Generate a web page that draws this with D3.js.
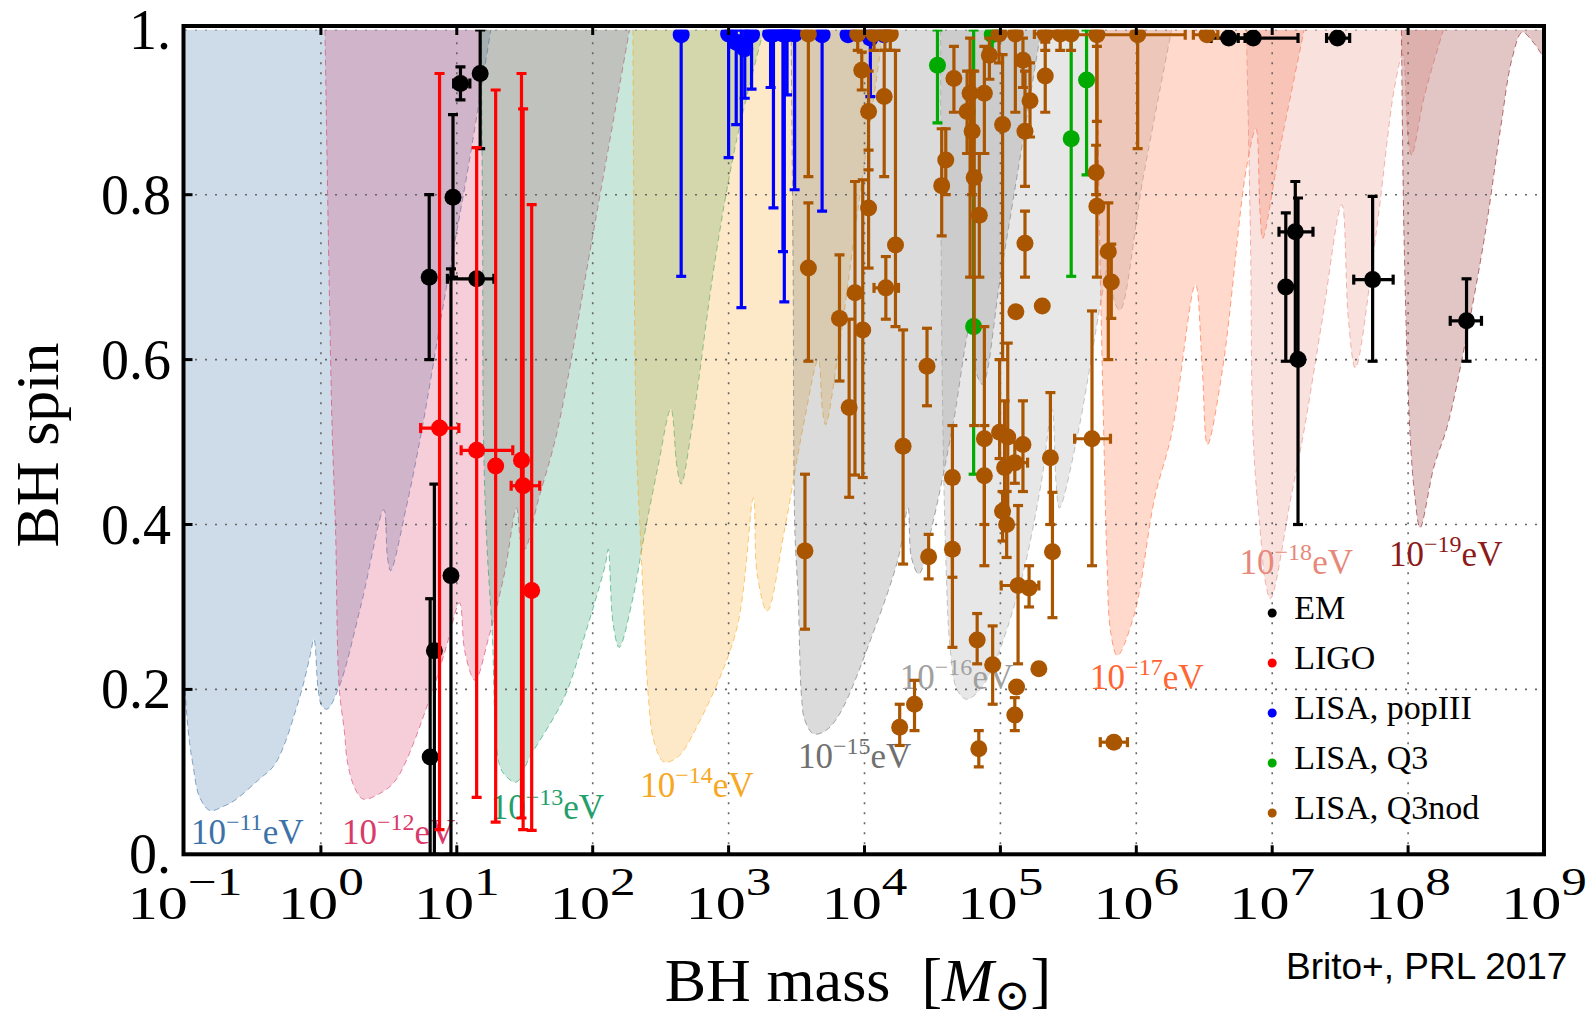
<!DOCTYPE html>
<html>
<head>
<meta charset="utf-8">
<title>BH spin vs mass</title>
<script src="https://d3js.org/d3.v7.min.js"></script>
<style>
  html, body { margin: 0; background: #fff; }
  text { font-family: "Liberation Serif", "DejaVu Serif", serif; }
  .credit { font-family: "Liberation Sans", Arial, sans-serif; }
</style>
</head>
<body>
<div id="chart"></div>
<script>
// ---- data (x values are log10 of BH mass in solar masses) ----
const massExponents = [-1, 0, 1, 2, 3, 4, 5, 6, 7, 8, 9];
const spinTicks = [0, 0.2, 0.4, 0.6, 0.8, 1];
const spinTickLabels = ["0.", "0.2", "0.4", "0.6", "0.8", "1."];

const bosonExponents = ["\u221211", "\u221212", "\u221213", "\u221214", "\u221215", "\u221216", "\u221217", "\u221218", "\u221219"];
const bosonColors = ["#3d72a8", "#d93a6a", "#22a06b", "#f7a823", "#707070", "#a0a0a0", "#ff6633", "#e6897a", "#8c1a1a"];
// where each "10^-n eV" label starts: [log10 M, spin] of its baseline
const bosonLabelAt = [[-0.956, 0.013], [0.155, 0.013], [1.25, 0.043], [2.35, 0.069], [3.51, 0.105], [4.26, 0.2], [5.66, 0.2], [6.76, 0.34], [7.86, 0.35]];

// excluded regions (Regge plane), boundary points [log10 M, spin]
const region11 = [[-1.12, 1], [-1.08, 0.6], [-1.03, 0.3], [-1.0, 0.2], [-0.97, 0.14], [-0.943, 0.11], [-0.892, 0.069], [-0.815, 0.053], [-0.72, 0.058], [-0.638, 0.065], [-0.461, 0.09], [-0.335, 0.11], [-0.157, 0.19], [-0.082, 0.239], [-0.051, 0.261], [-0.02, 0.2], [0.007, 0.18], [0.045, 0.176], [0.134, 0.203], [0.298, 0.304], [0.463, 0.418], [0.49, 0.36], [0.513, 0.344], [0.627, 0.42], [0.741, 0.513], [0.906, 0.671], [1.083, 0.832], [1.25, 1]];
const region12 = [[0.03, 1], [0.06, 0.7], [0.083, 0.513], [0.108, 0.392], [0.134, 0.203], [0.172, 0.15], [0.197, 0.11], [0.25, 0.08], [0.311, 0.067], [0.425, 0.073], [0.551, 0.09], [0.804, 0.19], [0.92, 0.25], [1.02, 0.305], [1.06, 0.245], [1.134, 0.211], [1.235, 0.263], [1.35, 0.34], [1.44, 0.42], [1.47, 0.38], [1.5, 0.37], [1.6, 0.43], [1.739, 0.513], [2.0, 0.75], [2.271, 1]];
const region13 = [[1.18, 1], [1.19, 0.75], [1.197, 0.501], [1.22, 0.38], [1.26, 0.271], [1.311, 0.11], [1.36, 0.095], [1.437, 0.0875], [1.537, 0.118], [1.79, 0.19], [1.95, 0.27], [2.094, 0.352], [2.114, 0.37], [2.15, 0.28], [2.195, 0.251], [2.296, 0.311], [2.372, 0.38], [2.48, 0.47], [2.575, 0.54], [2.62, 0.47], [2.651, 0.449], [2.726, 0.513], [2.9, 0.72], [3.056, 0.864], [3.259, 1]];
const region14 = [[2.296, 1], [2.321, 0.501], [2.347, 0.4], [2.372, 0.311], [2.41, 0.19], [2.449, 0.138], [2.524, 0.112], [2.626, 0.118], [2.752, 0.15], [3.056, 0.271], [3.182, 0.432], [3.21, 0.34], [3.284, 0.295], [3.41, 0.392], [3.55, 0.52], [3.66, 0.6], [3.69, 0.54], [3.714, 0.521], [3.8, 0.6], [3.95, 0.78], [4.14, 1]];
const region15 = [[3.46, 1], [3.475, 0.7], [3.487, 0.396], [3.512, 0.311], [3.537, 0.19], [3.562, 0.162], [3.626, 0.146], [3.714, 0.15], [3.816, 0.17], [4.069, 0.271], [4.25, 0.36], [4.32, 0.42], [4.345, 0.36], [4.4, 0.34], [4.5, 0.4], [4.65, 0.52], [4.78, 0.64], [4.83, 0.58], [4.87, 0.57], [5.0, 0.7], [5.15, 0.85], [5.3, 1]];
const region16 = [[4.56, 1], [4.57, 0.6], [4.6, 0.35], [4.63, 0.25], [4.68, 0.2], [4.752, 0.188], [4.85, 0.2], [4.955, 0.231], [5.15, 0.33], [5.3, 0.45], [5.38, 0.54], [5.41, 0.45], [5.434, 0.42], [5.559, 0.501], [5.75, 0.68], [5.8, 0.72], [5.84, 0.67], [5.88, 0.66], [6.05, 0.82], [6.26, 1]];
const region17 = [[5.71, 1], [5.73, 0.75], [5.76, 0.513], [5.785, 0.352], [5.81, 0.271], [5.86, 0.241], [5.985, 0.291], [6.135, 0.432], [6.26, 0.51], [6.435, 0.691], [6.485, 0.59], [6.524, 0.497], [6.636, 0.59], [6.81, 0.832], [6.88, 0.88], [6.91, 0.78], [6.93, 0.747], [7.05, 0.85], [7.235, 1]];
const region18 = [[6.81, 1], [6.84, 0.75], [6.861, 0.501], [6.912, 0.392], [6.95, 0.33], [6.987, 0.31], [7.137, 0.432], [7.23, 0.51], [7.37, 0.65], [7.512, 0.788], [7.56, 0.65], [7.612, 0.59], [7.763, 0.751], [7.9, 0.93], [7.96, 0.97], [8.0, 0.87], [8.026, 0.848], [8.12, 0.92], [8.26, 1]];
const region19 = [[7.951, 1], [7.97, 0.75], [8.013, 0.513], [8.051, 0.432], [8.088, 0.396], [8.19, 0.47], [8.29, 0.52], [8.42, 0.62], [8.565, 0.751], [8.68, 0.88], [8.765, 0.965], [8.84, 0.997], [8.92, 0.985], [9.0, 0.965], [9.1, 0.93], [9.1, 1]];
const regions = [region11, region12, region13, region14, region15, region16, region17, region18, region19];

// measurements: [log10 M, spin, spin low, spin high, log10 M low, log10 M high]
const emPoints = [
  [0.797, 0.70, 0.60, 0.80], [0.972, 0.797, 0.70, 0.897], [0.957, 0.338, 0.0, 0.71],
  [0.835, 0.247, 0.0, 0.449], [0.804, 0.118, -0.07, 0.31],
  [1.027, 0.935, 0.915, 0.955, 0.977, 1.096], [1.172, 0.947, 0.856, 1.0],
  [1.146, 0.698, null, null, 0.931, 1.273],
  [6.68, 0.99, null, null, 6.55, 6.8], [6.86, 0.99, null, null, 6.75, 7.19], [7.48, 0.99, null, null, 7.40, 7.57],
  [7.17, 0.755, 0.60, 0.816, 7.05, 7.30], [7.10, 0.688, 0.598, 0.778], [7.19, 0.60, 0.40, 0.796],
  [7.739, 0.697, 0.598, 0.798, 7.60, 7.89], [8.43, 0.647, 0.598, 0.698, 8.31, 8.54]
];
const ligoPoints = [
  [0.873, 0.517, 0.03, 0.947, 0.734, 1.015], [1.146, 0.49, 0.069, 0.857, 1.032, 1.412],
  [1.286, 0.471, 0.039, 0.927], [1.476, 0.478, 0.044, 0.947],
  [1.488, 0.447, 0.03, 0.904, 1.40, 1.61], [1.551, 0.32, 0.029, 0.788]
];
const popIIIPoints = [
  [2.651, 0.994, 0.701, 1], [3.0, 0.995, 0.845, 1], [3.056, 0.985, 0.885, 1], [3.094, 0.981, 0.663, 1],
  [3.119, 0.977, 0.917, 1], [3.169, 0.994, 0.928, 1], [3.309, 0.995, 0.93, 1], [3.33, 0.995, 0.784, 1],
  [3.41, 0.995, 0.67, 1], [3.40, 0.995, 0.731, 1], [3.43, 0.995, 0.921, 1], [3.486, 0.995, 0.806, 1],
  [3.688, 0.994, 0.78, 1], [3.879, 0.994], [4.043, 0.99, 0.919, 1], [4.145, 0.994]
];
const q3Points = [
  [4.537, 0.957, 0.887, 1], [4.803, 0.64, 0.461, 1], [4.94, 0.994, 0.97, 1],
  [5.634, 0.939, 0.824, 1], [5.521, 0.868, 0.701, 1]
];
const q3nodPoints = [
  [3.587, 0.995, 0.822, 1], [3.95, 0.995, 0.975, 1], [4.07, 0.995, 0.975, 1], [4.15, 0.995, 0.975, 1],
  [4.19, 0.995, 0.975, 1], [4.99, 0.995, 0.96, 1], [5.11, 0.995, 0.90, 1], [5.33, 0.995, 0.975, 1, 5.25, 5.42],
  [5.44, 0.995, 0.975, 1], [5.52, 0.995, 0.975, 1], [5.71, 0.994, 0.889, 1], [6.01, 0.994, 0.856, 1, 5.43, 6.36],
  [6.52, 0.994, null, null, 6.42, 6.6],
  [3.98, 0.951, 0.927, 0.973], [4.03, 0.901, 0.83, 0.95], [4.145, 0.919, 0.822, 0.975], [4.03, 0.784, 0.711, 0.854],
  [4.228, 0.739, 0.64, 0.975], [4.157, 0.687, 0.649, 0.725, 4.07, 4.25], [3.93, 0.681, 0.46, 0.816],
  [3.816, 0.65, 0.574, 0.727], [3.987, 0.636, 0.457, 0.818], [3.887, 0.542, 0.433, 0.649], [4.46, 0.592, 0.544, 0.638],
  [3.587, 0.711, 0.598, 0.79], [3.562, 0.368, 0.273, 0.461], [4.284, 0.495, 0.352, 0.636], [4.472, 0.361, 0.334, 0.388],
  [4.647, 0.457, 0.336, 0.52], [4.647, 0.37, 0.251, 0.45], [4.829, 0.26, 0.231, 0.292], [4.943, 0.23, 0.182, 0.277],
  [5.283, 0.225], [5.119, 0.203], [5.106, 0.169, 0.15, 0.19], [4.841, 0.128, 0.106, 0.15],
  [4.259, 0.154, 0.132, 0.182], [4.368, 0.182, 0.15, 0.211],
  [4.568, 0.811, 0.75, 0.88], [4.598, 0.842, 0.80, 0.88], [4.658, 0.941, 0.90, 0.98], [4.777, 0.923, 0.70, 0.99],
  [4.807, 0.821, 0.52, 0.95], [4.845, 0.775, 0.70, 0.85], [4.792, 0.877, 0.80, 0.95], [4.755, 0.901, 0.85, 0.95],
  [4.882, 0.923, 0.85, 0.98], [4.919, 0.969, 0.94, 0.99], [5.016, 0.885, 0.60, 0.97], [5.166, 0.963, 0.93, 0.99],
  [5.181, 0.877, 0.81, 0.95], [5.218, 0.914, 0.87, 0.96], [5.33, 0.944, 0.90, 0.985], [5.181, 0.741, 0.70, 0.78],
  [5.114, 0.658], [5.308, 0.665], [4.882, 0.504, 0.35, 0.64], [4.994, 0.512, 0.48, 0.60],
  [5.054, 0.506, 0.40, 0.62], [5.031, 0.469, 0.40, 0.55], [5.106, 0.475, 0.45, 0.50, 5.02, 5.2], [5.166, 0.497, 0.44, 0.55],
  [5.016, 0.416, 0.38, 0.44], [5.046, 0.40, 0.36, 0.44], [4.882, 0.459, 0.40, 0.52], [5.368, 0.481, 0.40, 0.56],
  [5.383, 0.367, 0.287, 0.439], [5.13, 0.326, 0.231, 0.423, 5.006, 5.283], [5.211, 0.323, 0.30, 0.35],
  [5.674, 0.504, 0.35, 0.659, 5.546, 5.81], [5.704, 0.827, 0.80, 0.86], [5.71, 0.786, 0.70, 0.98],
  [5.794, 0.731, 0.60, 0.79], [5.816, 0.694, 0.65, 0.74], [5.835, 0.136, null, null, 5.735, 5.935]
];

const seriesNames = ["EM", "LIGO", "LISA, popIII", "LISA, Q3", "LISA, Q3nod"];
const seriesColors = ["#000000", "#ff0000", "#0000ff", "#00aa00", "#aa5500"];
const seriesData = [emPoints, ligoPoints, popIIIPoints, q3Points, q3nodPoints];

// ---- chart ----
const width = 1594, height = 1023;
const svg = d3.select("#chart").append("svg")
    .attr("width", width)
    .attr("height", height);

const x = d3.scaleLog().domain([1e-1, 1e9]).range([185, 1544]);
const y = d3.scaleLinear().domain([0, 1]).range([854.3, 29.8]);
const px = v => x(Math.pow(10, v));

svg.append("clipPath").attr("id", "plotArea")
  .append("rect")
    .attr("x", x.range()[0]).attr("y", y(1))
    .attr("width", x.range()[1] - x.range()[0])
    .attr("height", y(0) - y(1));

const plot = svg.append("g").attr("clip-path", "url(#plotArea)");

// shaded regions
const boundary = d3.line()
    .x(d => px(d[0]))
    .y(d => y(d[1]))
    .curve(d3.curveCatmullRom.alpha(0.5));

regions.forEach((pts, i) => {
    plot.append("path")
        .attr("d", boundary(pts) + "Z")
        .attr("fill", bosonColors[i])
        .attr("fill-opacity", 0.25);
    plot.append("path")
        .attr("d", boundary(pts))
        .attr("fill", "none")
        .attr("stroke", bosonColors[i])
        .attr("stroke-opacity", 0.6)
        .attr("stroke-width", 1)
        .attr("stroke-dasharray", "6,4");
});

// dotted grid
const grid = plot.append("g")
    .attr("stroke", "#666")
    .attr("stroke-width", 1.6)
    .attr("stroke-dasharray", "2,8");
grid.selectAll("line.v")
    .data(massExponents.slice(1, -1))
    .join("line")
    .attr("x1", d => px(d)).attr("x2", d => px(d))
    .attr("y1", y(0)).attr("y2", y(1));
grid.selectAll("line.h")
    .data(spinTicks.slice(1))
    .join("line")
    .attr("y1", d => y(d)).attr("y2", d => y(d))
    .attr("x1", x.range()[0]).attr("x2", x.range()[1]);

// boson mass labels
bosonExponents.forEach((e, i) => {
    const t = plot.append("text")
        .attr("x", px(bosonLabelAt[i][0]))
        .attr("y", y(bosonLabelAt[i][1]))
        .attr("fill", bosonColors[i])
        .style("font-size", "35px");
    t.append("tspan").text("10");
    t.append("tspan").attr("dy", -14).style("font-size", "24px").text(e);
    t.append("tspan").attr("dy", 14).text("eV");
});

// measurements with error bars
const cap = 5;
seriesData.forEach((data, k) => {
    const color = seriesColors[k];
    const g = plot.append("g")
        .attr("stroke", color)
        .attr("stroke-width", 3.2)
        .attr("fill", color);

    const ybars = data.filter(d => d[2] != null);
    g.selectAll("line.ybar").data(ybars).join("line")
        .attr("x1", d => px(d[0])).attr("x2", d => px(d[0]))
        .attr("y1", d => y(d[2])).attr("y2", d => y(d[3]));
    g.selectAll("line.ycapLo").data(ybars).join("line")
        .attr("x1", d => px(d[0]) - cap).attr("x2", d => px(d[0]) + cap)
        .attr("y1", d => y(d[2])).attr("y2", d => y(d[2]));
    g.selectAll("line.ycapHi").data(ybars).join("line")
        .attr("x1", d => px(d[0]) - cap).attr("x2", d => px(d[0]) + cap)
        .attr("y1", d => y(d[3])).attr("y2", d => y(d[3]));

    const xbars = data.filter(d => d[4] != null);
    g.selectAll("line.xbar").data(xbars).join("line")
        .attr("x1", d => px(d[4])).attr("x2", d => px(d[5]))
        .attr("y1", d => y(d[1])).attr("y2", d => y(d[1]));
    g.selectAll("line.xcapLo").data(xbars).join("line")
        .attr("x1", d => px(d[4])).attr("x2", d => px(d[4]))
        .attr("y1", d => y(d[1]) - cap).attr("y2", d => y(d[1]) + cap);
    g.selectAll("line.xcapHi").data(xbars).join("line")
        .attr("x1", d => px(d[5])).attr("x2", d => px(d[5]))
        .attr("y1", d => y(d[1]) - cap).attr("y2", d => y(d[1]) + cap);

    g.selectAll("circle").data(data).join("circle")
        .attr("stroke", "none")
        .attr("cx", d => px(d[0]))
        .attr("cy", d => y(d[1]))
        .attr("r", 8.5);
});

// frame and ticks
svg.append("rect")
    .attr("x", 183.5).attr("y", 26)
    .attr("width", 1544 - 183.5).attr("height", 854.3 - 26)
    .attr("fill", "none")
    .attr("stroke", "#000")
    .attr("stroke-width", 4);

const ticks = svg.append("g").attr("stroke", "#000").attr("stroke-width", 3);
ticks.selectAll("line.b").data(massExponents.slice(1, -1)).join("line")
    .attr("x1", d => px(d)).attr("x2", d => px(d))
    .attr("y1", y(0)).attr("y2", y(0) - 9);
ticks.selectAll("line.t").data(massExponents.slice(1, -1)).join("line")
    .attr("x1", d => px(d)).attr("x2", d => px(d))
    .attr("y1", 26).attr("y2", 26 + 9);
ticks.selectAll("line.l").data(spinTicks.slice(1, -1)).join("line")
    .attr("x1", 183.5).attr("x2", 183.5 + 9)
    .attr("y1", d => y(d)).attr("y2", d => y(d));

// y tick labels
svg.append("g").selectAll("text").data(spinTicks).join("text")
    .attr("x", 171)
    .attr("y", d => y(d) + 19)
    .attr("text-anchor", "end")
    .style("font-size", "56px")
    .text((d, i) => spinTickLabels[i]);

// x tick labels 10^n (the reference draws them wide)
massExponents.forEach(e => {
    const t = svg.append("text")
        .attr("transform", `translate(${px(e)},919) scale(1.28,1)`)
        .attr("text-anchor", "middle")
        .style("font-size", "47px");
    t.append("tspan").text("10");
    t.append("tspan").attr("dy", -24).style("font-size", "40px")
        .text(e < 0 ? "\u2212" + (-e) : String(e));
});

// axis titles
svg.append("text")
    .attr("transform", "translate(58,445) rotate(-90)")
    .attr("text-anchor", "middle")
    .style("font-size", "62px")
    .text("BH spin");

const xt = svg.append("text")
    .attr("x", 858).attr("y", 1001)
    .attr("text-anchor", "middle")
    .style("font-size", "62px");
xt.append("tspan").text("BH mass\u00a0\u00a0[");
xt.append("tspan").style("font-style", "italic").text("M");
xt.append("tspan").attr("dy", 9).style("font-size", "44px").text("\u2299");
xt.append("tspan").attr("dy", -9).text("]");

svg.append("text")
    .attr("class", "credit")
    .attr("x", 1286).attr("y", 979)
    .style("font-size", "37px")
    .text("Brito+, PRL 2017");

// legend
const legend = svg.append("g");
seriesNames.forEach((name, i) => {
    const row = legend.append("g")
        .attr("transform", `translate(${px(7)}, ${613 + i * 50})`);
    row.append("circle").attr("r", 4.5).attr("fill", seriesColors[i]);
    row.append("text")
        .attr("x", 22).attr("y", 6)
        .style("font-size", "34px")
        .text(name);
});
</script>
</body>
</html>
